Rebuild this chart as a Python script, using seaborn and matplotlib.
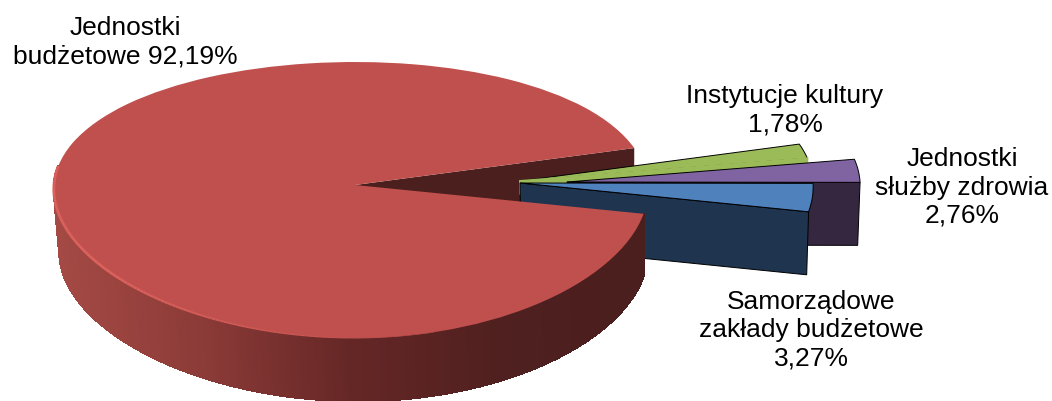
import numpy as np
import matplotlib
matplotlib.use("Agg")
import matplotlib.pyplot as plt
import matplotlib.colors as mcolors
from matplotlib.collections import LineCollection, PolyCollection
from matplotlib.transforms import Transform, Affine2D
import seaborn as sns

# --- data (counter-clockwise from the main slice) ---
names = ["Jednostki\nbudżetowe", "Samorządowe\nzakłady budżetowe",
         "Jednostki\nsłużby zdrowia", "Instytucje kultury"]
values = [92.19, 3.27, 2.76, 1.78]
seps = [" ", "\n", "\n", "\n"]
top_colors = ["#c0504d", "#4f81bd", "#8064a2", "#9bbb59"]
side_colors = ["#4a1f1e", "#1f344e", "#35273f", "#9bbb59"]
side_edges = ["none", "black", "black", "#9bbb59"]

# --- layout of the 3-D view, in output pixels ---
W, H = 1052, 401
CX, CY, RX = 355.0, 185.0, 297.0
PA, PC = -116.26, 0.1087      # perspective of the pie plane
SKEW_U, SKEW_V = 0.0135, 0.03
DEPTH = 63.0
START = 16.2
shifts = [(0, 0), (165, -2), (212, -3), (165, -4)]   # pulled-out slices
wall_depth = [1, 1, 1, 0.2]
label_xy = [(125, 42), (811, 330), (962, 187.5), (785, 110)]
FS = 19
ORDER = [0, 3, 2, 1]


def project(u, v, z=0.0, shift=(0, 0)):
    u, v = np.asarray(u, float), np.asarray(v, float)
    x = CX + RX * u / (1 + SKEW_U * u + SKEW_V * v)
    y = (PA * v + CY) / (1 + PC * v)
    x = x + shift[0]
    y = y + shift[1]
    if z:
        x = x + (620 - x) * 0.01 * z
        y = y + DEPTH * z
    return x, y


class PlaneToScreen(Transform):
    input_dims = output_dims = 2
    is_separable = False
    has_inverse = False

    def transform_non_affine(self, values):
        x, y = project(values[:, 0], values[:, 1])
        return np.column_stack([x, y])


sns.set_theme(style="white")
plt.rcParams["font.family"] = ["Liberation Sans", "DejaVu Sans"]

fig = plt.figure(figsize=(W / 100, H / 100), dpi=100, facecolor="white")
ax = fig.add_axes([0, 0, 1, 1])
wedges, _ = ax.pie(values, colors=top_colors, startangle=START,
                   counterclock=True, radius=1)
ax.set_aspect("auto")
ax.set_xlim(0, W)
ax.set_ylim(H, 0)
ax.axis("off")

plane = PlaneToScreen()


def cut_face(i, deg, zorder, lw):
    t = np.radians(deg)
    ru, rv = np.cos(t), np.sin(t)
    s, d = shifts[i], wall_depth[i]
    pts = [project(0, 0, 0, s), project(ru, rv, 0, s),
           project(ru, rv, d, s), project(0, 0, d, s)]
    ax.fill([p[0] for p in pts], [p[1] for p in pts], facecolor=side_colors[i],
            edgecolor=side_edges[i], linewidth=lw, zorder=zorder)


z = 1
for i in ORDER:
    w = wedges[i]
    w.set_transform(plane + Affine2D().translate(*shifts[i]) + ax.transData)
    if i == 0:
        cut_face(i, w.theta1, z, 0.7)
        z += 1
        continue
    # the green slice's face runs on up to the next slice, so it sits above
    if i == 3:
        cut_face(i, w.theta1, z + 2, 1.4)
    else:
        cut_face(i, w.theta1, z, 0.7)
    w.set_edgecolor("black")
    w.set_linewidth(0.7)
    w.set_zorder(z + 1)
    z += 3

# main slice: shaded outer wall
main = wedges[0]
main.set_zorder(z + 2)
main.set_linewidth(0)
th = np.linspace(172, main.theta2, 260)
u, v = np.cos(np.radians(th)), np.sin(np.radians(th))
xt, yt = project(u, v)
xb, yb = project(u, v, 1)
quads, cols = [], []
xp = [54, 200, 350, 500, 645]
shade = np.array([mcolors.to_rgb(c) for c in
                  ["#a54a45", "#8c3b38", "#652726", "#4f201f", "#4a1f1e"]])
for k in range(len(th) - 1):
    quads.append([(xt[k], yt[k]), (xt[k + 1], yt[k + 1]),
                  (xb[k + 1], yb[k + 1]), (xb[k], yb[k])])
    xm = (xt[k] + xt[k + 1]) / 2
    cols.append([np.interp(xm, xp, shade[:, c]) for c in range(3)])
ax.add_collection(PolyCollection(quads, facecolors=cols, edgecolors=cols,
                                 linewidths=1.0, antialiaseds=False, zorder=z))

# main slice: light rim along the front edge
sel = np.linspace(172, 285, 130)
ux, uy = project(np.cos(np.radians(sel)), np.sin(np.radians(sel)))
segs = [[(ux[k], uy[k]), (ux[k + 1], uy[k + 1])] for k in range(len(sel) - 1)]
light = np.array(mcolors.to_rgb("#dc625d"))
base = np.array(mcolors.to_rgb(top_colors[0]))
mix = np.clip((sel[:-1] - 215) / 70, 0, 1)
seg_cols = [light * (1 - m) + base * m for m in mix]
ax.add_collection(LineCollection(segs, colors=seg_cols,
                                 linewidths=2.0 - 1.7 * mix, zorder=z + 3))

# labels
for name, val, sep, (lx, ly) in zip(names, values, seps, label_xy):
    text = f"{name}{sep}{val:.2f}".replace(".", ",") + "%"
    ax.text(lx, ly, text, ha="center", va="center", fontsize=FS,
            color="black", linespacing=1.22, zorder=30)

fig.savefig("out.png", dpi=100, facecolor="white")
